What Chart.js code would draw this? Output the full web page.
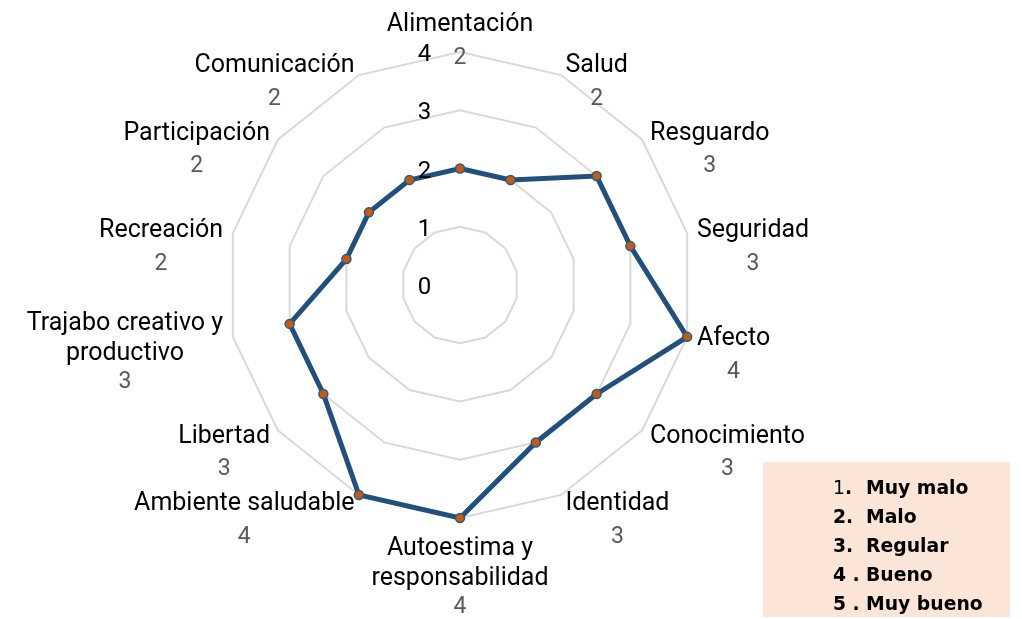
<!DOCTYPE html>
<html>
<head>
<meta charset="utf-8">
<script src="https://cdn.jsdelivr.net/npm/chart.js@4.4.1/dist/chart.umd.min.js"></script>
<style>
  body { margin: 0; background: #fff; }
  #wrap { position: relative; width: 1022px; height: 619px; }
  #legendBox {
    position: absolute; left: 763px; top: 462px; width: 247px; height: 155px;
    background: #FBE5D6; font-family: 'DejaVu Sans', sans-serif; font-size: 18.8px;
    font-weight: bold; color: #000;
  }
  .row { position: absolute; left: 70px; height: 29px; line-height: 29px; white-space: pre; }
  .row .n { display: inline-block; width: 33px; }
</style>
</head>
<body>
<div id="wrap">
  <canvas id="chart" width="1022" height="619"></canvas>
  <div id="legendBox"></div>
</div>
<script>
// categories and scores
var categories = ['Alimentación', 'Salud', 'Resguardo', 'Seguridad', 'Afecto', 'Conocimiento', 'Identidad',
    ['Autoestima y', 'responsabilidad'], 'Ambiente saludable', 'Libertad', ['Trajabo creativo y', 'productivo'],
    'Recreación', 'Participación', 'Comunicación'];
var values = [2, 2, 3, 3, 4, 3, 3, 4, 4, 3, 3, 2, 2, 2];
var tickValues = [0, 1, 2, 3, 4];
var legendNums = ['1.', '2.', '3.', '4 .', '5 .'];
var legendTexts = ['Muy malo', 'Malo', 'Regular', 'Bueno', 'Muy bueno'];

var FONT = "Roboto, 'DejaVu Sans', sans-serif";

// legend box (plain html text)
var box = document.getElementById('legendBox');
for (var k = 0; k < legendTexts.length; k++) {
    var row = document.createElement('div');
    row.className = 'row';
    row.style.top = (11 + k * 29) + 'px';
    var n = document.createElement('span');
    n.className = 'n';
    n.textContent = legendNums[k];
    if (k == 0) n.innerHTML = '<span style="font-weight:normal">1</span>.';
    var t = document.createElement('span');
    t.textContent = legendTexts[k];
    row.appendChild(n);
    row.appendChild(t);
    box.appendChild(row);
}

// draws tick numbers, category names and the value under each name
var labelPlugin = {
    id: 'radarText',
    afterDatasetsDraw: function(chart) {
        var ctx = chart.ctx;
        var scale = chart.scales.r;
        var n = categories.length;
        ctx.save();

        // tick labels, a bit to the left of the vertical axis
        ctx.font = '24px ' + FONT;
        ctx.fillStyle = '#000';
        ctx.textAlign = 'center';
        ctx.textBaseline = 'middle';
        for (var t = 0; t < tickValues.length; t++) {
            var d = scale.getDistanceFromCenterForValue(tickValues[t]);
            ctx.fillText(String(tickValues[t]), scale.xCenter - 35.5, scale.yCenter - d + 3);
        }

        var lineH = 30;
        for (var i = 0; i < n; i++) {
            var lines = Array.isArray(categories[i]) ? categories[i] : [categories[i]];
            ctx.font = '25px ' + FONT;
            var w = 0;
            for (var j = 0; j < lines.length; j++) w = Math.max(w, ctx.measureText(lines[j]).width);
            var blockH = lines.length * lineH;
            var cx, top;
            var isTop = (i == 0), isBottom = (i * 2 == n);
            if (isTop || isBottom) {
                var p = scale.getPointPosition(i, scale.drawingArea + 14);
                cx = p.x;
                top = isTop ? p.y - blockH + 2 : p.y + 2;
            } else {
                var p = scale.getPointPosition(i, scale.drawingArea + 10);
                cx = p.x > scale.xCenter ? p.x + w / 2 : p.x - w / 2;
                top = p.y - blockH / 2;
            }
            ctx.fillStyle = '#000';
            ctx.textAlign = 'center';
            ctx.textBaseline = 'middle';
            for (var j = 0; j < lines.length; j++) {
                ctx.fillText(lines[j], cx, top + lineH / 2 + j * lineH);
            }
            // score under the name, in grey
            ctx.font = '23px ' + FONT;
            ctx.fillStyle = '#595959';
            var lastY = top + lineH / 2 + (lines.length - 1) * lineH;
            ctx.fillText(String(values[i]), cx, lastY + (lines.length > 1 ? 28 : 33));
        }
        ctx.restore();
    }
};

var chart = new Chart(document.getElementById('chart'), {
    type: 'radar',
    data: {
        labels: categories,
        datasets: [{
            data: values,
            fill: false,
            borderColor: '#22507D',
            borderWidth: 5,
            pointRadius: 4.5,
            pointBackgroundColor: '#C55A11',
            pointBorderColor: '#2A5A88',
            pointBorderWidth: 1.5,
            tension: 0
        }]
    },
    options: {
        responsive: false,
        animation: false,
        devicePixelRatio: 1,
        layout: { padding: { top: 52, bottom: 101, left: 227, right: 329 } },
        plugins: {
            legend: { display: false },
            tooltip: { enabled: false }
        },
        scales: {
            r: {
                min: 0,
                max: 4,
                ticks: { display: false, stepSize: 1 },
                pointLabels: { display: false },
                angleLines: { display: false },
                grid: { color: '#D9D9D9', lineWidth: 2 }
            }
        }
    },
    plugins: [labelPlugin]
});
</script>
</body>
</html>
